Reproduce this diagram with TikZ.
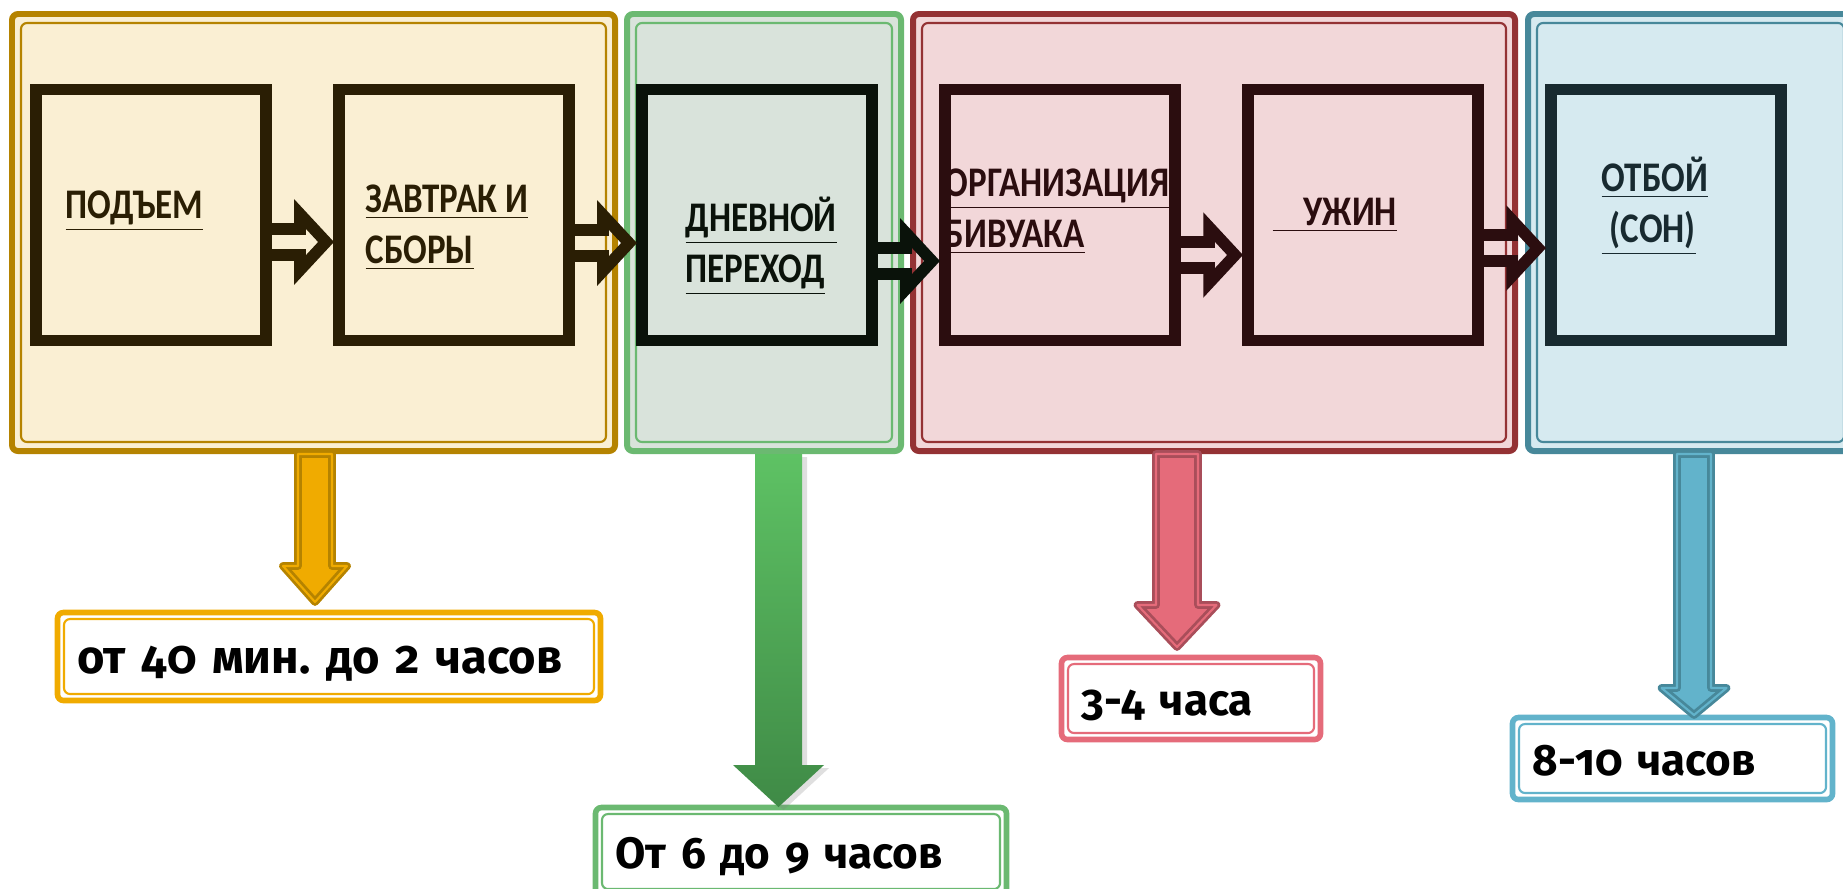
\documentclass[tikz,border=0pt]{standalone}
\usepackage{fontspec}
\setmainfont{Carlito}
\newfontfamily\stagefont[FakeStretch=0.83]{Carlito}
\newfontfamily\timefont[Numbers=OldStyle]{Fira Sans}
\usetikzlibrary{shapes, arrows, positioning, shadows, calc}

\definecolor{orline}{HTML}{B58300}
\definecolor{orback}{HTML}{FAEFD3}
\definecolor{orbox}{HTML}{2A1E04}
\definecolor{orlabel}{HTML}{F0AB00}
\definecolor{grline}{HTML}{6BB971}
\definecolor{grback}{HTML}{D9E3DB}
\definecolor{grbox}{HTML}{0A120A}
\definecolor{grtop}{HTML}{5EC264}
\definecolor{grbot}{HTML}{3F8A46}
\definecolor{rdline}{HTML}{943234}
\definecolor{rdback}{HTML}{F2D7D9}
\definecolor{rdbox}{HTML}{2B0D0F}
\definecolor{rdlabel}{HTML}{E56B7A}
\definecolor{rddark}{HTML}{A94E5A}
\definecolor{blline}{HTML}{47889A}
\definecolor{blback}{HTML}{D6EAF0}
\definecolor{blbox}{HTML}{182A30}
\definecolor{bllabel}{HTML}{62B3CB}

\tikzset{
  stage/.style={draw=#1line, fill=#1back, line width=1.7pt, rounded corners=0.6mm,
    minimum height=4.37cm,
    path picture={\draw[#1line, line width=0.6pt]
      ([shift={(0.09,-0.09)}]path picture bounding box.north west) rectangle
      ([shift={(-0.09,0.09)}]path picture bounding box.south east);}},
  stagebox/.style={draw=#1, line width=3.4pt, minimum width=2.30cm, minimum height=2.51cm},
  boxtext/.style={text=#1, font=\stagefont\bfseries\fontsize{12}{14.5}\selectfont, align=left,
    anchor=base west, inner sep=0pt},
  flow/.style={draw=#1, line width=3.3pt, line join=miter},
  timebox/.style={draw=#1, fill=white, line width=1.6pt, rounded corners=0.6mm,
    align=left, inner xsep=0.2cm, text height=0.4cm, text depth=0.06cm, minimum height=0.88cm,
    font=\timefont\bfseries\fontsize{12.5}{15}\selectfont\frenchspacing,
    path picture={\draw[#1, line width=0.6pt]
      ([shift={(0.065,-0.065)}]path picture bounding box.north west) rectangle
      ([shift={(-0.065,0.065)}]path picture bounding box.south east);}},
  orarrow/.style={draw=orline, fill=orlabel, double=orlabel, line width=0.8pt,
    double distance=0.6pt, line join=round},
  grarrow/.style={top color=grtop, bottom color=grbot,
    drop shadow={opacity=0.25, shadow xshift=0.05, shadow yshift=-0.03}},
  rdarrow/.style={draw=rddark, fill=rdlabel, double=rdlabel, line width=0.8pt,
    double distance=0.6pt, line join=round},
  blarrow/.style={draw=blline, fill=bllabel, double=bllabel, line width=0.8pt,
    double distance=0.6pt, line join=round}
}

% hollow double arrow from a start coordinate to an end point
\newcommand{\flowarrow}[3]{%
  \draw[#1] ($(#2)+(0,0.13)$) -- ($(#3)+(-0.33,0.13)$) -- ($(#3)+(-0.33,0.28)$)
    -- ($(#3)+(-0.07,0)$) -- ($(#3)+(-0.33,-0.28)$) -- ($(#3)+(-0.33,-0.13)$)
    -- ($(#2)+(0,-0.13)$);}

% wide arrow from the bottom of a group down to a tip coordinate
\newcommand{\timearrow}[6]{%
  \path[#1] ($(#3 |- #2)+(-#4,0)$) -- ($(#3)+(-#4,#6)$) -- ($(#3)+(-#5,#6)$) -- (#3)
    -- ($(#3)+(#5,#6)$) -- ($(#3)+(#4,#6)$) -- ($(#3 |- #2)+(#4,0)$) -- cycle;}

\begin{document}
\begin{tikzpicture}[node distance=3.03cm]
  \useasboundingbox (0,0) rectangle (18.43,-8.88);

  % groups of the day
  \node (og) [stage=or, minimum width=6.03cm] at (3.135,-2.325) {};
  \node (gg) [stage=gr, minimum width=2.74cm] at (7.64,-2.325) {};
  \node (rg) [stage=rd, minimum width=6.02cm] at (12.14,-2.325) {};
  \node (bg) [stage=bl, minimum width=3.25cm] at (16.905,-2.325) {};

  % stages
  \node (b1) [stagebox=orbox] at (1.51,-2.15) {};
  \node (b2) [stagebox=orbox, right of=b1] {};
  \node (b3) [stagebox=grbox, right of=b2] {};
  \node (b4) [stagebox=rdbox, right of=b3] {};
  \node (b5) [stagebox=rdbox, right of=b4] {};
  \node (b6) [stagebox=blbox, right of=b5] {};

  \node (t1) [boxtext=orbox] at (0.65,-2.18) {\underline{ПОДЪЕМ}};
  \node (t2) [boxtext=orbox] at (3.65,-2.63) {\underline{ЗАВТРАК И}\\\underline{СБОРЫ}};
  \node (t3) [boxtext=grbox] at (6.85,-2.82) {\underline{ДНЕВНОЙ}\\\underline{ПЕРЕХОД}};
  \node (t4) [boxtext=rdbox] at (9.44,-2.47) {\underline{ОРГАНИЗАЦИЯ}\\\underline{БИВУАКА}};
  \node (t5) [boxtext=rdbox] at (12.72,-2.25) {\underline{\hspace*{0.31cm}УЖИН}};
  \node (t6) [boxtext=blbox] at (16.01,-2.42) {\underline{ОТБОЙ}\\\underline{\hspace*{0.08cm}(СОН)}};

  \coordinate (f1) at ([yshift=-0.27cm]b1.east);
  \coordinate (f2) at ([yshift=-0.28cm]b2.east);
  \coordinate (f3) at ([yshift=-0.46cm]b3.east);
  \coordinate (f4) at ([yshift=-0.40cm]b4.east);
  \coordinate (f5) at ([yshift=-0.33cm]b5.east);
  \flowarrow{flow=orbox}{f1}{f1 -| b2.west}
  \flowarrow{flow=orbox}{f2}{f2 -| b3.west}
  \flowarrow{flow=grbox}{f3}{f3 -| b4.west}
  \flowarrow{flow=rdbox}{f4}{f4 -| b5.west}
  \flowarrow{flow=rdbox}{f5}{f5 -| b6.west}

  % durations
  \node (ol) [timebox=orlabel, text width=5.03cm, font=\timefont\bfseries\fontsize{13.4}{15}\selectfont\frenchspacing] at (3.29,-6.565) {от 40 мин. до 2 часов};
  \node (gl) [timebox=grline, text width=3.71cm] at (8.01,-8.515) {От 6 до 9 часов};
  \node (rl) [timebox=rdlabel, text width=2.19cm, minimum height=0.82cm] at (11.91,-6.985) {3-4 часа};
  \node (bl) [timebox=bllabel, text width=2.80cm, minimum height=0.82cm] at (16.725,-7.585) {8-10 часов};

  \coordinate (oa) at (3.15,-6.02);
  \coordinate (ga) at (7.785,-8.07);
  \coordinate (ra) at (11.77,-6.47);
  \coordinate (ba) at (16.94,-7.15);
  \timearrow{orarrow}{og.south}{oa}{0.17}{0.32}{0.36}
  \timearrow{grarrow}{gg.south}{ga}{0.235}{0.455}{0.42}
  \timearrow{rdarrow}{rg.south}{ra}{0.21}{0.395}{0.42}
  \timearrow{blarrow}{bg.south}{ba}{0.17}{0.325}{0.27}
\end{tikzpicture}
\end{document}
